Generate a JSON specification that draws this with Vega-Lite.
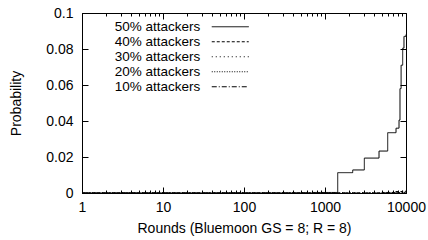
{
  "$schema": "https://vega.github.io/schema/vega-lite/v6.json",
  "width": 324,
  "height": 180,
  "autosize": "none",
  "padding": {"left": 82, "top": 13, "right": 22, "bottom": 47},
  "background": "white",
  "config": {
    "font": "Liberation Sans",
    "view": {"stroke": "black", "strokeWidth": 1},
    "axis": {"domainColor": "black", "tickColor": "black", "labelColor": "black", "titleColor": "black", "grid": false, "labelFontSize": 14, "titleFontSize": 14, "titleFontWeight": "normal", "labelFont": "Liberation Sans", "titleFont": "Liberation Sans"}
  },
  "data": {"values": [
    {"series": "50% attackers", "x": 1, "p": 0},
    {"series": "50% attackers", "x": 700, "p": 0.0003},
    {"series": "50% attackers", "x": 1000, "p": 0.0003},
    {"series": "50% attackers", "x": 1435, "p": 0.0113},
    {"series": "50% attackers", "x": 2197, "p": 0.0128},
    {"series": "50% attackers", "x": 3060, "p": 0.0194},
    {"series": "50% attackers", "x": 4645, "p": 0.0233},
    {"series": "50% attackers", "x": 5943, "p": 0.0335},
    {"series": "50% attackers", "x": 7530, "p": 0.036},
    {"series": "50% attackers", "x": 8200, "p": 0.0405},
    {"series": "50% attackers", "x": 8430, "p": 0.058},
    {"series": "50% attackers", "x": 8700, "p": 0.071},
    {"series": "50% attackers", "x": 9100, "p": 0.0805},
    {"series": "50% attackers", "x": 9440, "p": 0.087},
    {"series": "50% attackers", "x": 10000, "p": 0.088},
    {"series": "40% attackers", "x": 1, "p": 0},
    {"series": "40% attackers", "x": 5000, "p": 0.0003},
    {"series": "40% attackers", "x": 7000, "p": 0.0008},
    {"series": "40% attackers", "x": 9000, "p": 0.001},
    {"series": "40% attackers", "x": 10000, "p": 0.001},
    {"series": "30% attackers", "x": 1, "p": 0},
    {"series": "30% attackers", "x": 6000, "p": 0.0003},
    {"series": "30% attackers", "x": 8000, "p": 0.0007},
    {"series": "30% attackers", "x": 10000, "p": 0.0008},
    {"series": "20% attackers", "x": 1, "p": 0},
    {"series": "20% attackers", "x": 7000, "p": 0.0002},
    {"series": "20% attackers", "x": 10000, "p": 0.0005},
    {"series": "10% attackers", "x": 1, "p": 0},
    {"series": "10% attackers", "x": 10000, "p": 0}
  ]},
  "layer": [
    {
      "mark": {"type": "line", "interpolate": "step-after", "color": "black", "strokeWidth": 1},
      "encoding": {
        "x": {"field": "x", "type": "quantitative",
          "scale": {"type": "log", "domain": [1, 10000], "nice": false},
          "axis": {"orient": "bottom", "title": "Rounds (Bluemoon GS = 8; R = 8)", "format": "d",
            "values": [1,2,3,4,5,6,7,8,9,10,20,30,40,50,60,70,80,90,100,200,300,400,500,600,700,800,900,1000,2000,3000,4000,5000,6000,7000,8000,9000,10000],
            "labelExpr": "(datum.value == 1 || datum.value == 10 || datum.value == 100 || datum.value == 1000 || datum.value == 10000) ? datum.label : ''",
            "tickSize": {"condition": {"test": "datum.value == 1 || datum.value == 10 || datum.value == 100 || datum.value == 1000 || datum.value == 10000", "value": -6}, "value": -3},
            "labelPadding": 13, "titlePadding": 4, "labelFlush": false, "labelOverlap": false}},
        "y": {"field": "p", "type": "quantitative",
          "scale": {"domain": [0, 0.1], "nice": false},
          "axis": {"orient": "left", "title": "Probability", "values": [0, 0.02, 0.04, 0.06, 0.08, 0.1], "format": "~g", "tickSize": -6, "labelPadding": 15, "titlePadding": 22}},
        "strokeDash": {"field": "series", "type": "nominal",
          "scale": {"domain": ["50% attackers", "40% attackers", "30% attackers", "20% attackers", "10% attackers"],
            "range": [[1, 0], [3, 2], [1, 3], [1, 1.5], [5, 2, 1, 2]]},
          "legend": {"orient": "none", "legendX": 100, "legendY": 7, "title": null, "padding": 0,
            "symbolType": "M-4,0H4", "symbolSize": 85.56, "symbolStrokeColor": "black", "symbolStrokeWidth": 1, "symbolFillColor": "transparent",
            "symbolOffset": 41.5, "labelOffset": -36.8, "labelAlign": "right", "labelFontSize": 13.5, "labelColor": "black", "labelFont": "Liberation Sans", "rowPadding": 0}}
      }
    },
    {
      "mark": {"type": "line", "opacity": 0},
      "encoding": {
        "x": {"field": "x", "type": "quantitative",
          "axis": {"orient": "top", "title": null, "labels": false, "domain": false,
            "values": [1,2,3,4,5,6,7,8,9,10,20,30,40,50,60,70,80,90,100,200,300,400,500,600,700,800,900,1000,2000,3000,4000,5000,6000,7000,8000,9000,10000],
            "tickSize": {"condition": {"test": "datum.value == 1 || datum.value == 10 || datum.value == 100 || datum.value == 1000 || datum.value == 10000", "value": -6}, "value": -3}}},
        "y": {"field": "p", "type": "quantitative",
          "axis": {"orient": "right", "title": null, "labels": false, "domain": false, "values": [0, 0.02, 0.04, 0.06, 0.08, 0.1], "tickSize": -6}}
      }
    }
  ],
  "resolve": {"axis": {"x": "independent", "y": "independent"}}
}
